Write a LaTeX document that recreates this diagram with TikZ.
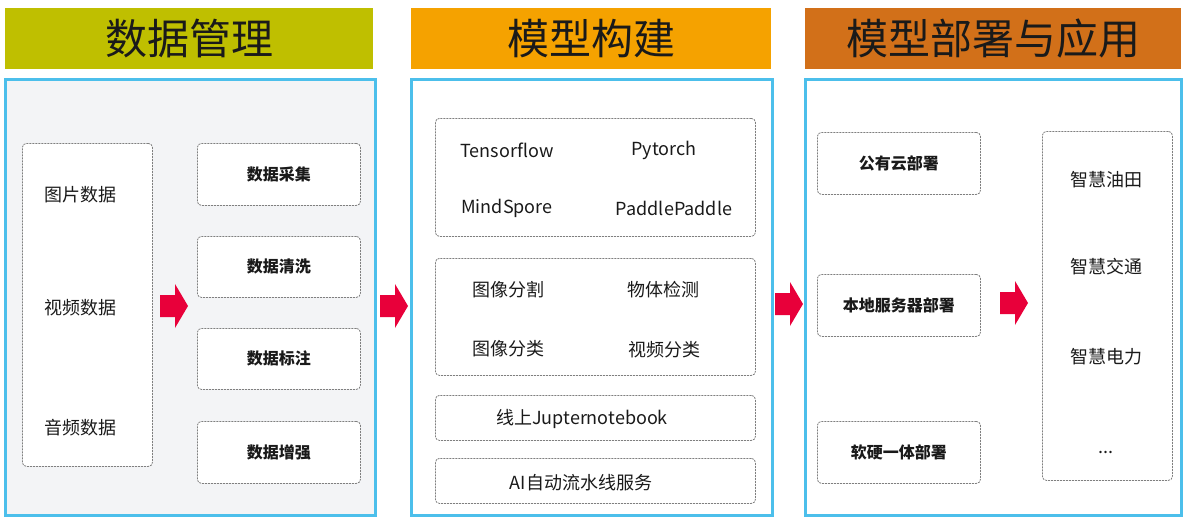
\documentclass[tikz,border=0pt]{standalone}
\usepackage{fontspec}
\setmainfont{Noto Sans CJK SC}
\definecolor{hdrA}{HTML}{BFBF00}
\definecolor{hdrB}{HTML}{F5A200}
\definecolor{hdrC}{HTML}{D27019}
\definecolor{panelblue}{HTML}{4CBFEB}
\definecolor{panelgray}{HTML}{F3F4F6}
\definecolor{dashgray}{HTML}{7F7F7F}
\definecolor{arrowred}{HTML}{E8003A}
\definecolor{txt}{HTML}{1A1A1A}
\tikzset{
  header/.style={anchor=north west, inner sep=0, text=txt, font=\fontsize{42}{48}\selectfont},
  panel/.style={draw=panelblue, line width=3pt},
  dbox/.style={draw=dashgray, line width=0.8pt, dash pattern=on 2pt off 1pt, rounded corners=4pt, fill=white, anchor=north west, inner sep=0},
  lbl/.style={text=txt, font=\fontsize{18}{22}\selectfont, inner sep=0},
  blbl/.style={text=txt, font=\fontsize{16}{20}\selectfont\bfseries, inner sep=0},
  redarr/.pic={\fill[arrowred] (-14,-11) -- (1,-11) -- (1,-22) -- (14,0) -- (1,22) -- (1,11) -- (-14,11) -- cycle;}
}
\begin{document}
\begin{tikzpicture}[x=1pt,y=-1pt]
\useasboundingbox (0,0) rectangle (1187,522);
% headers
\node[header, fill=hdrA, minimum width=368pt, minimum height=61pt] (hA) at (5,8) {数据管理};
\node[header, fill=hdrB, minimum width=360pt, minimum height=61pt] (hB) at (411,8) {模型构建};
\node[header, fill=hdrC, minimum width=376pt, minimum height=61pt] (hC) at (805,8) {模型部署与应用};
% panels
\draw[panel, fill=panelgray] (5,79) rectangle (375,515);
\draw[panel, fill=white] (411,79) rectangle (772,515);
\draw[panel, fill=white] (805,79) rectangle (1181,515);
% panel 1
\node[dbox, minimum width=130pt, minimum height=323pt] (src) at (22,143) {};
\node[lbl] (s1) at (80,195) {图片数据};
\node[lbl] (s2) at (80,308) {视频数据};
\node[lbl] (s3) at (80,428) {音频数据};
\node[dbox, minimum width=163pt, minimum height=62pt] (d1) at (197,143) {};
\node[dbox, minimum width=163pt, minimum height=61pt] (d2) at (197,236) {};
\node[dbox, minimum width=163pt, minimum height=61pt] (d3) at (197,328) {};
\node[dbox, minimum width=163pt, minimum height=62pt] (d4) at (197,421) {};
\node[blbl] at (d1.center) {数据采集};
\node[blbl] at (d2.center) {数据清洗};
\node[blbl] at (d3.center) {数据标注};
\node[blbl] at (d4.center) {数据增强};
% panel 2
\node[dbox, minimum width=320pt, minimum height=118pt] (fw) at (435,118) {};
\node[lbl] (f1) at (507,150) {Tensorflow};
\node[lbl] (f2) at (664,150) {Pytorch};
\node[lbl] (f3) at (507,208) {MindSpore};
\node[lbl] (f4) at (674,208) {PaddlePaddle};
\node[dbox, minimum width=320pt, minimum height=117pt] (tk) at (435,258) {};
\node[lbl] (t1) at (508,290) {图像分割};
\node[lbl] (t2) at (663,290) {物体检测};
\node[lbl] (t3) at (508,349) {图像分类};
\node[lbl] (t4) at (664,350) {视频分类};
\node[dbox, minimum width=320pt, minimum height=45pt] (jp) at (435,395) {};
\node[lbl] at (582,419) {线上Jupternotebook};
\node[dbox, minimum width=320pt, minimum height=45pt] (ai) at (435,458) {};
\node[lbl] at (581,483) {AI自动流水线服务};
% panel 3
\node[dbox, minimum width=163pt, minimum height=62pt] (p1) at (817,132) {};
\node[dbox, minimum width=163pt, minimum height=62pt] (p2) at (817,274) {};
\node[dbox, minimum width=163pt, minimum height=62pt] (p3) at (817,421) {};
\node[blbl] at (p1.center) {公有云部署};
\node[blbl] at (p2.center) {本地服务器部署};
\node[blbl] at (p3.center) {软硬一体部署};
\node[dbox, minimum width=130pt, minimum height=349pt] (app) at (1042,131) {};
\node[lbl] (a1) at (1106,180) {智慧油田};
\node[lbl] (a2) at (1106,267) {智慧交通};
\node[lbl] (a3) at (1106,357) {智慧电力};
\node[lbl] (a4) at (1106,452) {...};
% red arrows
\pic at (174,306) {redarr};
\pic at (394,306) {redarr};
\pic at (789,304) {redarr};
\pic at (1014,303) {redarr};
\end{tikzpicture}
\end{document}
